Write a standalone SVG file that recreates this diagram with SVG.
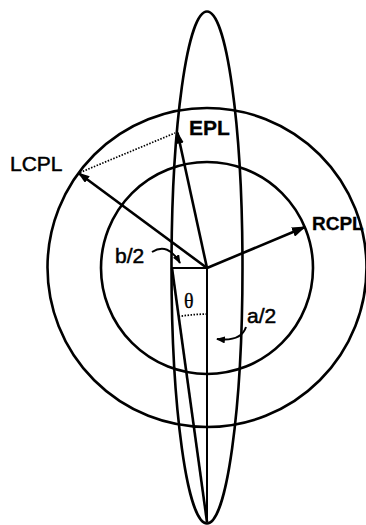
<svg xmlns="http://www.w3.org/2000/svg" width="366" height="525" viewBox="0 0 366 525">
<style>
.ln{fill:none;stroke:#000;stroke-width:2.6}
.th{fill:none;stroke:#000;stroke-width:2}
.dt{fill:none;stroke:#000;stroke-width:1.7;stroke-dasharray:1.5 1.5}
.lb{font-family:"Liberation Sans",Arial,sans-serif;font-size:21px;fill:#000;stroke:#000;stroke-width:0.5}
.bd{font-weight:bold;stroke-width:0.3}
.th2{font-family:"Liberation Serif","Times New Roman",serif;font-size:20px;fill:#000;stroke:#000;stroke-width:0.3}
</style>
<defs>
<marker id="ah" viewBox="0 0 12 8" refX="11" refY="4" markerWidth="12" markerHeight="8" markerUnits="userSpaceOnUse" orient="auto"><path d="M0,0 L12,4 L0,8 z" fill="#000"/></marker>
<marker id="ahL" viewBox="0 0 14 10" refX="13" refY="5" markerWidth="14" markerHeight="10" markerUnits="userSpaceOnUse" orient="auto"><path d="M0,0 L14,5 L0,10 z" fill="#000"/></marker>
<marker id="ahS" viewBox="0 0 9 7" refX="8" refY="3.5" markerWidth="9" markerHeight="7" markerUnits="userSpaceOnUse" orient="auto"><path d="M0,0 L9,3.5 L0,7 z" fill="#000"/></marker>
</defs>
<rect width="366" height="525" fill="#fff"/>
<g id="outer-circle"><circle class="ln" cx="207" cy="267.5" r="159.5"/></g>
<g id="inner-circle"><circle class="ln" cx="207" cy="268" r="106"/></g>
<g id="ellipse"><ellipse class="ln" cx="207" cy="267.5" rx="35.5" ry="256"/></g>
<g id="connectors">
<line class="ln" x1="207" y1="268" x2="177.5" y2="132.5" marker-end="url(#ah)"/>
<line class="ln" x1="207" y1="268" x2="78.5" y2="173" marker-end="url(#ah)"/>
<line class="ln" x1="207" y1="268" x2="305" y2="227" marker-end="url(#ahL)"/>
<line class="dt" x1="80" y1="172.5" x2="175" y2="133"/>
<line class="th" x1="172" y1="268" x2="207" y2="268"/>
<line class="th" x1="207" y1="268" x2="207" y2="522"/>
<line class="ln" x1="172" y1="268" x2="207" y2="522"/>
<path class="dt" d="M178.6,316.5 A208,208 0 0 1 207,314"/>
<path class="th" d="M152,252 Q168,242 180,263" marker-end="url(#ahS)"/>
<path class="th" d="M246,327 Q241,342 217,339" marker-end="url(#ahS)"/>
</g>
<g id="labels">
<text class="lb bd" x="189" y="135">EPL</text>
<text class="lb" x="10" y="171">LCPL</text>
<text class="lb bd" x="312" y="230" style="font-size:19px">RCPL</text>
<text class="lb" x="115" y="263">b/2</text>
<text class="lb" x="247" y="323">a/2</text>
<text class="th2" x="184" y="308">θ</text>
</g>
</svg>
